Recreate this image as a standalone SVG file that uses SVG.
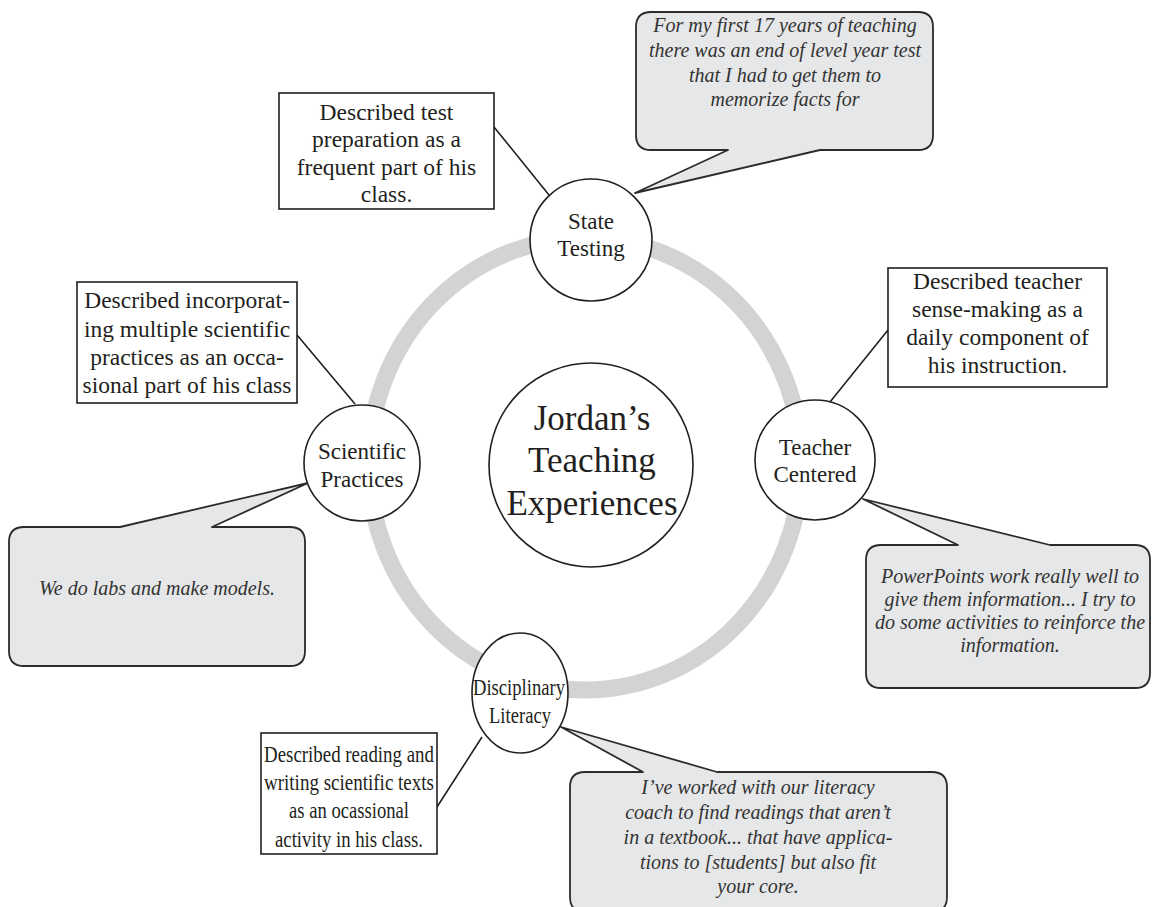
<svg xmlns="http://www.w3.org/2000/svg" width="1153" height="907" viewBox="0 0 1153 907">
  <style>
    text { font-family: "Liberation Serif", "Times New Roman", serif; fill: #231f20; text-anchor: middle; }
    .node { fill: #ffffff; stroke: #231f20; stroke-width: 1.6; }
    .lbl { font-size: 23px; }
    .hub { font-size: 35px; }
    .box { fill: #ffffff; stroke: #231f20; stroke-width: 1.6; }
    .btxt { font-size: 23.5px; }
    .bubble { fill: #e6e7e8; stroke: #2b2b2b; stroke-width: 1.8; stroke-linejoin: round; }
    .quote { font-size: 20px; font-style: italic; fill: #333333; }
    .link { stroke: #231f20; stroke-width: 1.6; fill: none; }
  </style>

  <rect width="1153" height="907" fill="#ffffff"/>

  <!-- grey ring joining the four themes -->
  <ellipse id="ring" cx="585" cy="464" rx="216" ry="226" fill="none" stroke="#d1d3d4" stroke-width="17"/>

  <!-- straight leader lines from the summary boxes to the themes -->
  <g id="connectors">
    <line class="link" x1="494" y1="127" x2="549" y2="195"/>
    <line class="link" x1="297" y1="335" x2="355" y2="404"/>
    <line class="link" x1="888" y1="330" x2="830" y2="402"/>
    <line class="link" x1="437" y1="807" x2="482" y2="737"/>
  </g>

  <!-- quotation bubbles with pointed tails -->
  <g id="quote-state-testing">
    <path class="bubble" d="M651 12 H918 Q933 12 933 27 V135 Q933 150 918 150 H820 L635 193 L728 150 H651 Q636 150 636 135 V27 Q636 12 651 12 Z"/>
    <text class="quote" x="785" y="32">For my first 17 years of teaching</text>
    <text class="quote" x="785" y="57">there was an end of level year test</text>
    <text class="quote" x="785" y="82">that I had to get them to</text>
    <text class="quote" x="785" y="106">memorize facts for</text>
  </g>

  <g id="quote-teacher-centered">
    <path class="bubble" d="M881 545 H958 L863 499 L1050 545 H1135 Q1150 545 1150 560 V673 Q1150 688 1135 688 H881 Q866 688 866 673 V560 Q866 545 881 545 Z"/>
    <text class="quote" x="1010" y="583">PowerPoints work really well to</text>
    <text class="quote" x="1010" y="606">give them information... I try to</text>
    <text class="quote" x="1010" y="629">do some activities to reinforce the</text>
    <text class="quote" x="1010" y="652">information.</text>
  </g>

  <g id="quote-scientific-practices">
    <path class="bubble" d="M24 527 H120 L308 483 L212 527 H290 Q305 527 305 542 V651 Q305 666 290 666 H24 Q9 666 9 651 V542 Q9 527 24 527 Z"/>
    <text class="quote" x="157" y="595">We do labs and make models.</text>
  </g>

  <g id="quote-disciplinary-literacy">
    <path class="bubble" d="M585 772 H643 L561 727 L717 772 H932 Q947 772 947 787 V897 Q947 912 932 912 H585 Q570 912 570 897 V787 Q570 772 585 772 Z"/>
    <text class="quote" x="758" y="794">I’ve worked with our literacy</text>
    <text class="quote" x="758" y="819">coach to find readings that aren’t</text>
    <text class="quote" x="758" y="844">in a textbook... that have applica-</text>
    <text class="quote" x="758" y="869">tions to [students] but also fit</text>
    <text class="quote" x="758" y="893">your core.</text>
  </g>

  <!-- summary boxes -->
  <g id="box-state-testing">
    <rect class="box" x="279" y="93" width="215" height="116"/>
    <text class="btxt" x="386.5" y="120">Described test</text>
    <text class="btxt" x="386.5" y="147">preparation as a</text>
    <text class="btxt" x="386.5" y="175">frequent part of his</text>
    <text class="btxt" x="386.5" y="202">class.</text>
  </g>

  <g id="box-scientific-practices">
    <rect class="box" x="77" y="282" width="220" height="121"/>
    <text class="btxt" x="187" y="308">Described incorporat-</text>
    <text class="btxt" x="187" y="337">ing multiple scientific</text>
    <text class="btxt" x="187" y="365">practices as an occa-</text>
    <text class="btxt" x="187" y="393">sional part of his class</text>
  </g>

  <g id="box-teacher-centered">
    <rect class="box" x="888" y="268" width="219" height="119"/>
    <text class="btxt" x="997.5" y="289">Described teacher</text>
    <text class="btxt" x="997.5" y="317">sense-making as a</text>
    <text class="btxt" x="997.5" y="345">daily component of</text>
    <text class="btxt" x="997.5" y="373">his instruction.</text>
  </g>

  <g id="box-disciplinary-literacy">
    <rect class="box" x="261" y="733" width="176" height="121"/>
    <text class="btxt" x="349" y="762" textLength="170" lengthAdjust="spacingAndGlyphs">Described reading and</text>
    <text class="btxt" x="349" y="790" textLength="170" lengthAdjust="spacingAndGlyphs">writing scientific texts</text>
    <text class="btxt" x="349" y="818" textLength="120" lengthAdjust="spacingAndGlyphs">as an ocassional</text>
    <text class="btxt" x="349" y="847" textLength="148" lengthAdjust="spacingAndGlyphs">activity in his class.</text>
  </g>

  <!-- theme nodes on the ring -->
  <g id="node-state-testing">
    <circle class="node" cx="591" cy="240" r="61"/>
    <text class="lbl" x="591" y="229">State</text>
    <text class="lbl" x="591" y="256">Testing</text>
  </g>

  <g id="node-teacher-centered">
    <circle class="node" cx="815" cy="460" r="60"/>
    <text class="lbl" x="815" y="455">Teacher</text>
    <text class="lbl" x="815" y="482">Centered</text>
  </g>

  <g id="node-scientific-practices">
    <circle class="node" cx="362" cy="463" r="58"/>
    <text class="lbl" x="362" y="459">Scientific</text>
    <text class="lbl" x="362" y="487">Practices</text>
  </g>

  <g id="node-disciplinary-literacy">
    <ellipse class="node" cx="520" cy="693" rx="48" ry="60"/>
    <text class="lbl" x="519" y="695" textLength="92" lengthAdjust="spacingAndGlyphs">Disciplinary</text>
    <text class="lbl" x="520" y="723" textLength="62" lengthAdjust="spacingAndGlyphs">Literacy</text>
  </g>

  <!-- central topic -->
  <g id="node-center">
    <circle class="node" cx="591" cy="465" r="102"/>
    <text class="hub" x="592" y="430">Jordan’s</text>
    <text class="hub" x="592" y="472">Teaching</text>
    <text class="hub" x="592" y="515">Experiences</text>
  </g>
</svg>
